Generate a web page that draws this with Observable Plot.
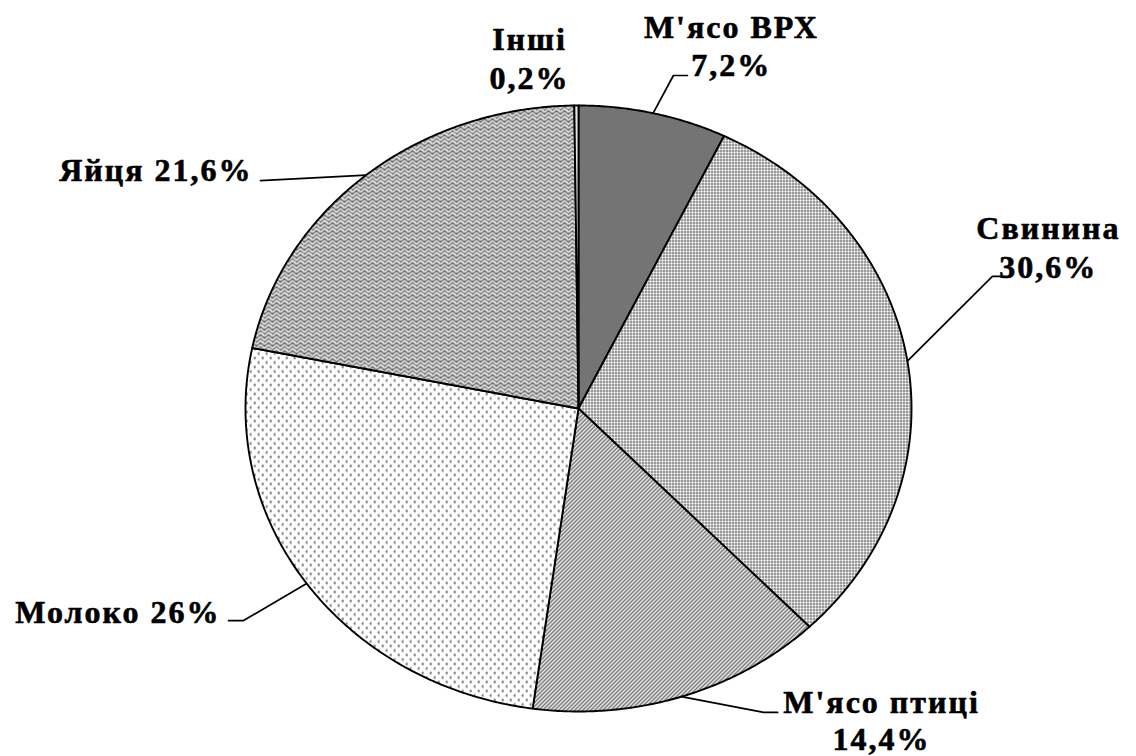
<!DOCTYPE html>
<html>
<head>
<meta charset="utf-8">
<script src="https://cdn.jsdelivr.net/npm/d3@7"></script>
<script src="https://cdn.jsdelivr.net/npm/@observablehq/plot@0.6"></script>
<style>
  html, body { margin: 0; padding: 0; background: #fff; }
  #chart svg text { letter-spacing: 2px; font-family: "Liberation Serif", "Times New Roman", serif; font-weight: bold; }
</style>
</head>
<body>
<div id="chart"></div>
<script>
// ---- data ----
const categories = ["М'ясо ВРХ", "Свинина", "М'ясо птиці", "Молоко", "Яйця", "Інші"];
const shares = [7.2, 30.6, 14.4, 26, 21.6, 0.2];
const shareLabels = ["7,2%", "30,6%", "14,4%", "26%", "21,6%", "0,2%"];

// ---- layout (ellipse-normalised units) ----
const patterns = ["url(#p-vrx)", "url(#p-svyn)", "url(#p-ptyts)", "url(#p-moloko)", "url(#p-yaytsia)", "url(#p-inshi)"];
// label rows: [category index, text line, x, y, anchor]
const labelRows = [
  [5, "Інші", -0.147, 1.218, "middle"],
  [5, "0,2%", -0.147, 1.089, "middle"],
  [0, "М'ясо ВРХ", 0.459, 1.257, "middle"],
  [0, "7,2%", 0.459, 1.132, "middle"],
  [1, "Свинина", 1.411, 0.594, "middle"],
  [1, "30,6%", 1.411, 0.465, "middle"],
  [2, "М'ясо птиці", 0.910, -0.970, "middle"],
  [2, "14,4%", 0.910, -1.092, "middle"],
  [3, "Молоко 26%", -1.075, -0.673, "end"],
  [4, "Яйця 21,6%", -0.979, 0.785, "end"]
];
// leader elbows after the slice-edge start point
const leaderElbows = [
  [0, [[0.285, 1.099], [0.327, 1.099]]],
  [1, [[1.243, 0.436], [1.285, 0.436]]],
  [2, [[0.556, -1.003], [0.598, -1.003]]],
  [3, [[-1.006, -0.700], [-1.051, -0.700]]],
  [4, [[-0.955, 0.752]]]
];

// ---- build geometry from data ----
const arcs = d3.pie().sort(null).value(d => d)(shares);
const slicePts = [];
arcs.forEach((a, i) => {
  const name = categories[i];
  slicePts.push({name, x: 0, y: 0});
  const n = Math.max(2, Math.ceil((a.endAngle - a.startAngle) / (Math.PI / 360)));
  for (let k = 0; k <= n; k++) {
    const t = a.startAngle + (a.endAngle - a.startAngle) * k / n;
    slicePts.push({name, x: Math.sin(t), y: Math.cos(t)});
  }
  slicePts.push({name, x: 0, y: 0});
});

const leaderPts = [];
leaderElbows.forEach(([i, elbows]) => {
  const a = arcs[i];
  const m = (a.startAngle + a.endAngle) / 2;
  leaderPts.push({name: categories[i], x: Math.sin(m), y: Math.cos(m)});
  elbows.forEach(([x, y]) => leaderPts.push({name: categories[i], x, y}));
});

const labels = labelRows.map(([i, text, x, y, anchor]) => ({name: categories[i], text, x, y, anchor}));

const W = 1136, H = 756;
const font = {fontFamily: "Liberation Serif", fontWeight: "bold", fontSize: 32, fill: "black", stroke: "black", strokeWidth: 0.6};

const svg = Plot.plot({
  width: W,
  height: H,
  margin: 0,
  style: {background: "white", overflow: "visible"},
  x: {domain: [-578 / 333, (W - 578) / 333], axis: null},
  y: {domain: [-(H - 408) / 303, 408 / 303], axis: null},
  color: {type: "ordinal", domain: categories, range: patterns},
  marks: [
    Plot.line(slicePts, {x: "x", y: "y", z: "name", fill: "name", stroke: "black", strokeWidth: 1.9, strokeLinejoin: "round", curve: "linear"}),
    Plot.line(leaderPts, {x: "x", y: "y", z: "name", stroke: "black", strokeWidth: 1.7}),
    Plot.text(labels.filter(d => d.anchor === "middle"), {x: "x", y: "y", text: "text", textAnchor: "middle", ...font}),
    Plot.text(labels.filter(d => d.anchor === "end"), {x: "x", y: "y", text: "text", textAnchor: "end", ...font})
  ]
});

// ---- hatch patterns ----
const defs = d3.select(svg).insert("defs", ":first-child");
function pat(id, w, h, build) {
  const p = defs.append("pattern").attr("id", id).attr("patternUnits", "userSpaceOnUse").attr("width", w).attr("height", h);
  build(p);
}
pat("p-vrx", 2, 2, p => {
  p.append("rect").attr("width", 2).attr("height", 2).attr("fill", "#b0b0b0");
  p.append("rect").attr("x", 0).attr("y", 0).attr("width", 1).attr("height", 1).attr("fill", "#383838");
  p.append("rect").attr("x", 1).attr("y", 1).attr("width", 1).attr("height", 1).attr("fill", "#383838");
});
pat("p-svyn", 3, 3, p => {
  p.append("rect").attr("width", 3).attr("height", 3).attr("fill", "#ffffff");
  p.append("rect").attr("x", 0).attr("y", 0).attr("width", 3).attr("height", 1).attr("fill", "#9c9c9c");
  p.append("rect").attr("x", 0).attr("y", 0).attr("width", 1).attr("height", 3).attr("fill", "#9c9c9c");
  p.append("rect").attr("x", 0).attr("y", 0).attr("width", 1).attr("height", 1).attr("fill", "#333");
});
pat("p-ptyts", 4, 4, p => {
  p.append("rect").attr("width", 4).attr("height", 4).attr("fill", "#ffffff");
  p.append("path").attr("d", "M-1,1 L1,-1 M0,4 L4,0 M3,5 L5,3").attr("stroke", "#333").attr("stroke-width", 1.1);
});
pat("p-moloko", 8, 9, p => {
  p.append("rect").attr("width", 8).attr("height", 9).attr("fill", "#ffffff");
  p.append("path").attr("d", "M3,0.5 L1,2 L3,3.5 M7,5 L5,6.5 L7,8").attr("stroke", "#888").attr("stroke-width", 1).attr("fill", "none");
  p.append("rect").attr("x", 2).attr("y", 1.5).attr("width", 1).attr("height", 1).attr("fill", "#111");
  p.append("rect").attr("x", 6).attr("y", 6).attr("width", 1).attr("height", 1).attr("fill", "#111");
});
pat("p-yaytsia", 8, 8, p => {
  p.append("rect").attr("width", 8).attr("height", 8).attr("fill", "#6a6a6a");
  p.append("path").attr("d", "M0,4 L4,0 L8,4 M0,8 L4,4 L8,8 M2,1 L3,2 M6,5 L7,6").attr("stroke", "#ffffff").attr("stroke-width", 1.3).attr("fill", "none");
});
pat("p-inshi", 4, 4, p => {
  p.append("rect").attr("width", 4).attr("height", 4).attr("fill", "#e8e8e8");
});

document.getElementById("chart").appendChild(svg);
</script>
</body>
</html>
